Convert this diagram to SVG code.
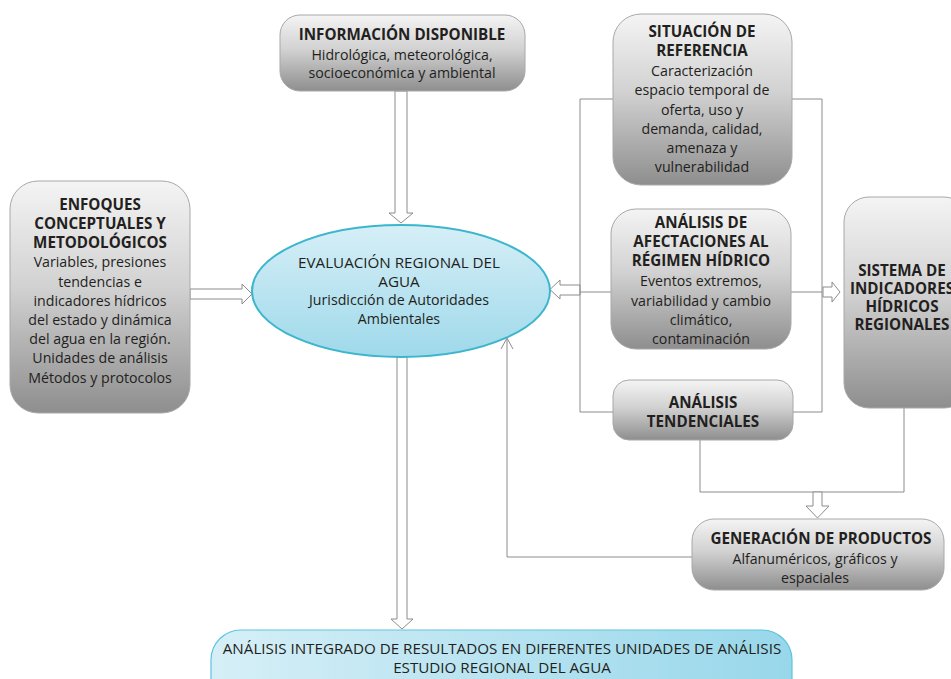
<svg xmlns="http://www.w3.org/2000/svg" width="951" height="679" viewBox="0 0 951 679">
<defs>
<linearGradient id="gray" x1="0" y1="0" x2="0" y2="1">
<stop offset="0" stop-color="#f4f4f4"/>
<stop offset="0.45" stop-color="#d2d2d2"/>
<stop offset="1" stop-color="#8e8e8e"/>
</linearGradient>
<linearGradient id="blueV" x1="0" y1="0" x2="0" y2="1">
<stop offset="0" stop-color="#d6eff7"/>
<stop offset="1" stop-color="#9fd9ea"/>
</linearGradient>
<linearGradient id="blueH" x1="0" y1="0" x2="1" y2="0">
<stop offset="0" stop-color="#d6eff7"/>
<stop offset="1" stop-color="#98d7ea"/>
</linearGradient>
</defs>
<style>
.box{fill:url(#gray);stroke:#a8a8a8;stroke-width:1}
.t{font-family:"Open Sans","Noto Sans",sans-serif;font-size:14.2px;fill:#231f20;text-anchor:middle}
.b{font-weight:bold;font-size:15.2px}
.u{font-size:15.2px}
.ln{fill:none;stroke:#8c8c8c;stroke-width:1}
.ha{fill:#ffffff;stroke:#8c8c8c;stroke-width:1}
</style>
<rect width="951" height="679" fill="#ffffff"/>

<g id="connectors">
<polygon class="ha" points="395,91 407,91 407,213 413,213 401,223 389,213 395,213"/>
<polygon class="ha" points="190,289 242,289 242,284 252,294 242,304 242,299 190,299"/>
<polygon class="ha" points="580,285 560,285 560,280 550,289.5 560,299 560,295 580,295"/>
<polyline class="ln" points="613,99 580,99 580,412 613,412"/>
<polyline class="ln" points="792,99 822,99 822,412 793,412"/>
<line class="ln" x1="580" y1="292" x2="611" y2="292"/>
<line class="ln" x1="791" y1="292" x2="822" y2="292"/>
<polygon class="ha" points="823,287 832,287 832,282 840,292 832,302 832,297 823,297"/>
<polyline class="ln" points="700,440 700,492 904,492 904,408"/>
<polygon class="ha" points="813,492 822,492 822,506 829,506 817.5,518 806,506 813,506"/>
<polyline class="ln" points="692,557 507,557 507,339"/>
<polyline class="ln" points="501,349 507,338 513,349"/>
<polygon class="ha" points="397,357 407,357 407,619 413,619 402,629 391,619 397,619"/>
</g>

<g id="informacion">
<rect class="box" x="280" y="15" width="245" height="76" rx="20"/>
<text class="t b" x="402" y="40">INFORMACIÓN DISPONIBLE</text>
<text class="t" x="402" y="60">Hidrológica, meteorológica,</text>
<text class="t" x="402" y="78">socioeconómica y ambiental</text>
</g>

<g id="enfoques">
<rect class="box" x="10" y="181" width="180" height="232" rx="28"/>
<text class="t b" x="100" y="210">ENFOQUES</text>
<text class="t b" x="100" y="229">CONCEPTUALES Y</text>
<text class="t b" x="100" y="248">METODOLÓGICOS</text>
<text class="t" x="100" y="267">Variables, presiones</text>
<text class="t" x="100" y="287">tendencias e</text>
<text class="t" x="100" y="306">indicadores hídricos</text>
<text class="t" x="100" y="325">del estado y dinámica</text>
<text class="t" x="100" y="344">del agua en la región.</text>
<text class="t" x="100" y="363">Unidades de análisis</text>
<text class="t" x="100" y="383">Métodos y protocolos</text>
</g>

<g id="evaluacion">
<ellipse cx="401" cy="291" rx="149" ry="66" fill="url(#blueV)" stroke="#3cb6cd" stroke-width="2"/>
<text class="t u" x="399" y="268">EVALUACIÓN REGIONAL DEL</text>
<text class="t u" x="399" y="287">AGUA</text>
<text class="t" x="399" y="305">Jurisdicción de Autoridades</text>
<text class="t" x="399" y="324">Ambientales</text>
</g>

<g id="situacion">
<rect class="box" x="613" y="14" width="179" height="171" rx="28"/>
<text class="t b" x="702" y="37">SITUACIÓN DE</text>
<text class="t b" x="702" y="56">REFERENCIA</text>
<text class="t" x="702" y="76">Caracterización</text>
<text class="t" x="702" y="95">espacio temporal de</text>
<text class="t" x="702" y="115">oferta, uso y</text>
<text class="t" x="702" y="134">demanda, calidad,</text>
<text class="t" x="702" y="153">amenaza y</text>
<text class="t" x="702" y="172">vulnerabilidad</text>
</g>

<g id="afectaciones">
<rect class="box" x="611" y="209" width="180" height="140" rx="25"/>
<text class="t b" x="701" y="228">ANÁLISIS DE</text>
<text class="t b" x="701" y="247">AFECTACIONES AL</text>
<text class="t b" x="701" y="266">RÉGIMEN HÍDRICO</text>
<text class="t" x="701" y="286">Eventos extremos,</text>
<text class="t" x="701" y="306">variabilidad y cambio</text>
<text class="t" x="701" y="325">climático,</text>
<text class="t" x="701" y="344">contaminación</text>
</g>

<g id="tendenciales">
<rect class="box" x="613" y="380" width="180" height="60" rx="16"/>
<text class="t b" x="703" y="408">ANÁLISIS</text>
<text class="t b" x="703" y="427">TENDENCIALES</text>
</g>

<g id="sistema">
<rect class="box" x="844" y="197" width="125" height="211" rx="25"/>
<text class="t b" x="902" y="276">SISTEMA DE</text>
<text class="t b" x="902" y="294">INDICADORES</text>
<text class="t b" x="902" y="312">HÍDRICOS</text>
<text class="t b" x="902" y="330">REGIONALES</text>
</g>

<g id="generacion">
<rect class="box" x="692" y="519" width="252" height="71" rx="22"/>
<text class="t b" x="821" y="544">GENERACIÓN DE PRODUCTOS</text>
<text class="t" x="815" y="564">Alfanuméricos, gráficos y</text>
<text class="t" x="815" y="583">espaciales</text>
</g>

<g id="integrado">
<rect x="211" y="630" width="581" height="80" rx="30" fill="url(#blueH)" stroke="#5ec5dd" stroke-width="1.2"/>
<text class="t u" x="502" y="654">ANÁLISIS INTEGRADO DE RESULTADOS EN DIFERENTES UNIDADES DE ANÁLISIS</text>
<text class="t u" x="502" y="673">ESTUDIO REGIONAL DEL AGUA</text>
</g>
</svg>
